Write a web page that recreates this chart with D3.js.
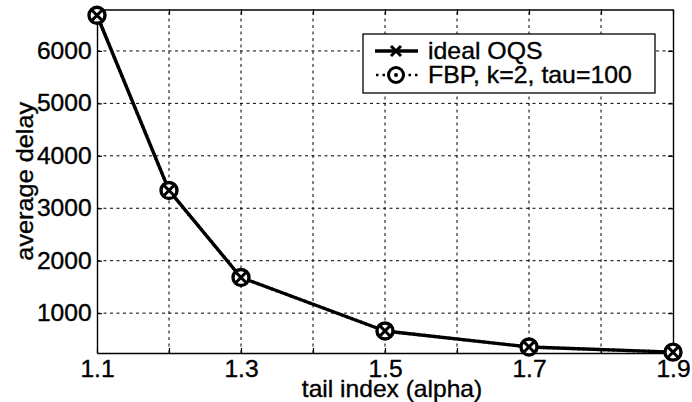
<!DOCTYPE html>
<html>
<head>
<meta charset="utf-8">
<script src="https://cdn.jsdelivr.net/npm/d3@7/dist/d3.min.js"></script>
<style>
  html, body { margin: 0; padding: 0; background: #fff; }
  svg { display: block; font-family: "Liberation Sans", Arial, Helvetica, sans-serif; }
</style>
</head>
<body>
<svg id="chart" width="692" height="402"></svg>
<script>
// Tail index values at which the delay was measured
const alpha = [1.1, 1.2, 1.3, 1.5, 1.7, 1.9];
// Average delay for the ideal output-queued switch
const idealOQS = [6680, 3340, 1680, 660, 355, 256];
// Average delay for FBP with k=2, tau=100
const fbp = [6680, 3340, 1680, 660, 355, 256];

const xTicks = [1.1, 1.2, 1.3, 1.4, 1.5, 1.6, 1.7, 1.8, 1.9];
const xTickLabels = ["1.1", "", "1.3", "", "1.5", "", "1.7", "", "1.9"];
const yTicks = [1000, 2000, 3000, 4000, 5000, 6000];
const yTickLabels = ["1000", "2000", "3000", "4000", "5000", "6000"];
const legendLabels = ["ideal OQS", "FBP, k=2, tau=100"];

const margin = { left: 97, right: 19, top: 9.5, bottom: 49 };
const W = 692, H = 402;
const svg = d3.select("#chart");

const x = d3.scaleLinear().domain([1.1, 1.9]).range([margin.left, W - margin.right]);
const y = d3.scaleLinear().domain([240, 6790]).range([H - margin.bottom, margin.top]);

const fontSize = 23;
const widen = 1.07;   // glyphs are slightly wide
function inked(sel) {
  return sel.attr("fill", "#000").attr("stroke", "#000").attr("stroke-width", 0.35);
}

// dashed grid
const grid = svg.append("g").attr("stroke", "#000").attr("stroke-width", 1)
  .attr("stroke-dasharray", "3,3.5");
grid.selectAll("line.v").data(xTicks.slice(1, -1)).join("line")
  .attr("x1", d => x(d)).attr("x2", d => x(d))
  .attr("y1", y.range()[0]).attr("y2", y.range()[1]);
grid.selectAll("line.h").data(yTicks).join("line")
  .attr("x1", x.range()[0]).attr("x2", x.range()[1])
  .attr("y1", d => y(d)).attr("y2", d => y(d));

// axes with inward ticks
const xAxis = d3.axisBottom(x).tickValues(xTicks).tickSizeInner(-5).tickSizeOuter(0)
  .tickPadding(8).tickFormat((d, i) => xTickLabels[i]);
const yAxis = d3.axisLeft(y).tickValues(yTicks).tickSizeInner(-5).tickSizeOuter(0)
  .tickPadding(5).tickFormat((d, i) => yTickLabels[i]);

svg.append("g").attr("transform", `translate(0,${y.range()[0]})`).call(xAxis);
svg.append("g").attr("transform", `translate(${x.range()[0]},0)`).call(yAxis);
// top and right edges with their own tick marks
svg.append("g").attr("transform", `translate(0,${y.range()[1]})`)
  .call(d3.axisTop(x).tickValues(xTicks).tickSizeInner(-5).tickSizeOuter(0).tickFormat(""));
svg.append("g").attr("transform", `translate(${x.range()[1]},0)`)
  .call(d3.axisRight(y).tickValues(yTicks).tickSizeInner(-5).tickSizeOuter(0).tickFormat(""));

svg.selectAll(".domain").attr("stroke", "#000").attr("stroke-width", 1.4);
svg.selectAll(".tick line").attr("stroke", "#000").attr("stroke-width", 1.2);
inked(svg.selectAll(".tick text").attr("font-size", fontSize)
  .attr("font-family", "Liberation Sans, Arial, sans-serif")
  .attr("transform", `scale(${widen},1)`));

// axis titles
inked(svg.append("text").attr("transform", `translate(392,397) scale(${widen},1)`)
  .attr("text-anchor", "middle").attr("font-size", fontSize)
  .text("tail index (alpha)"));
inked(svg.append("text").attr("transform", `translate(33,${(y.range()[0] + y.range()[1]) / 2}) rotate(-90) scale(1.1,1)`)
  .attr("text-anchor", "middle").attr("font-size", fontSize)
  .text("average delay"));

// the two curves coincide; FBP drawn dotted beneath the solid ideal curve
const line = d3.line().x((d, i) => x(alpha[i])).y(d => y(d));
svg.append("path").datum(fbp).attr("d", line).attr("fill", "none")
  .attr("stroke", "#000").attr("stroke-width", 3.4).attr("stroke-dasharray", "1,4");
svg.append("path").datum(idealOQS).attr("d", line).attr("fill", "none")
  .attr("stroke", "#000").attr("stroke-width", 3.4).attr("stroke-linejoin", "round");

function xMark(g, cx, cy, r, w) {
  g.append("path").attr("d", `M${cx - r},${cy - r}L${cx + r},${cy + r}M${cx - r},${cy + r}L${cx + r},${cy - r}`)
    .attr("stroke", "#000").attr("stroke-width", w).attr("fill", "none");
}
const marks = svg.append("g");
fbp.forEach((v, i) => {
  marks.append("circle").attr("cx", x(alpha[i])).attr("cy", y(v)).attr("r", 8)
    .attr("fill", "#fff").attr("stroke", "#000").attr("stroke-width", 3.4);
});
idealOQS.forEach((v, i) => xMark(marks, x(alpha[i]), y(v), 4.8, 3));

// legend
const lg = svg.append("g");
lg.append("rect").attr("x", 363).attr("y", 34).attr("width", 292).attr("height", 59)
  .attr("fill", "#fff").attr("stroke", "#000").attr("stroke-width", 1.3);
const rows = [51, 75];
lg.append("line").attr("x1", 375).attr("x2", 418).attr("y1", rows[0]).attr("y2", rows[0])
  .attr("stroke", "#000").attr("stroke-width", 3.4);
xMark(lg, 396, rows[0], 5, 3);
lg.append("line").attr("x1", 376).attr("x2", 418).attr("y1", rows[1]).attr("y2", rows[1])
  .attr("stroke", "#000").attr("stroke-width", 2.6).attr("stroke-dasharray", "2.5,4");
lg.append("circle").attr("cx", 396).attr("cy", rows[1]).attr("r", 7.5)
  .attr("fill", "#fff").attr("stroke", "#000").attr("stroke-width", 3);
lg.append("circle").attr("cx", 396).attr("cy", rows[1]).attr("r", 2).attr("fill", "#000");
legendLabels.forEach((t, i) => {
  inked(lg.append("text").attr("transform", `translate(428,${rows[i]}) scale(1.08,1)`)
    .attr("dy", "0.36em").attr("font-size", fontSize)
    .text(t));
});
</script>
</body>
</html>
